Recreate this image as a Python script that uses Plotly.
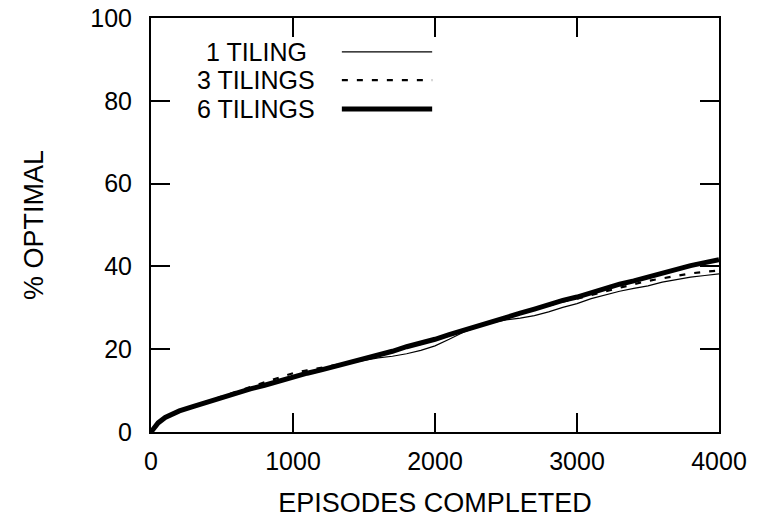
import plotly.graph_objects as go

episodes = [0, 25, 50, 100, 150, 200, 300, 400, 500, 600, 700, 800, 900, 1000,
            1100, 1200, 1300, 1400, 1500, 1600, 1700, 1800, 1900, 2000,
            2100, 2200, 2300, 2400, 2500, 2600, 2700, 2800, 2900, 3000,
            3100, 3200, 3300, 3400, 3500, 3600, 3700, 3800, 3900, 4000]

tiling1 = [0, 1.2, 2.2, 3.5, 4.4, 5.1, 6.2, 7.3, 8.5, 9.5, 10.5, 11.4, 12.4, 13.5,
           14.3, 15.1, 15.9, 16.6, 17.3, 17.9, 18.3, 18.9, 19.7, 20.8,
           22.4, 24.1, 25.4, 26.4, 27.1, 27.5, 28.1, 29.0, 30.1, 31.0,
           32.2, 33.1, 34.0, 34.7, 35.3, 36.2, 36.8, 37.4, 37.8, 38.2]

tiling3 = [0, 1.3, 2.3, 3.6, 4.5, 5.2, 6.3, 7.4, 8.6, 9.7, 10.9, 12.0, 13.2, 14.2,
           14.9, 15.5, 16.2, 16.8, 17.6, 18.5, 19.5, 20.5, 21.3, 22.3,
           23.4, 24.5, 25.6, 26.7, 27.7, 28.6, 29.6, 30.6, 31.5, 32.2,
           33.1, 33.9, 34.8, 35.7, 36.5, 37.1, 37.8, 38.3, 38.7, 39.0]

tiling6 = [0, 1.2, 2.2, 3.5, 4.4, 5.1, 6.2, 7.3, 8.4, 9.4, 10.4, 11.3, 12.3, 13.4,
           14.2, 15.0, 15.9, 16.7, 17.5, 18.4, 19.5, 20.6, 21.4, 22.4,
           23.5, 24.6, 25.7, 26.8, 27.8, 28.7, 29.7, 30.8, 31.8, 32.6,
           33.7, 34.8, 35.7, 36.5, 37.5, 38.4, 39.5, 40.2, 40.9, 41.6]

labels = ["1 TILING", "3 TILINGS", "6 TILINGS"]
x_ticks = [0, 1000, 2000, 3000, 4000]
y_ticks = [0, 20, 40, 60, 80, 100]

FONT = "Liberation Sans, Arial, sans-serif"

styles = [dict(width=1.2, dash="solid"),
          dict(width=2.2, dash="6px,9px"),
          dict(width=5, dash="solid")]

fig = go.Figure()
for name, ys, st in zip(labels, [tiling1, tiling3, tiling6], styles):
    fig.add_trace(go.Scatter(x=episodes, y=ys, mode="lines", name=name,
                             line=dict(color="black", width=st["width"], dash=st["dash"]),
                             showlegend=False))

# legend drawn manually: centered text followed by sample line
leg_y = [0.918, 0.850, 0.780]
for name, yy, st in zip(labels, leg_y, styles):
    fig.add_annotation(xref="paper", yref="paper", x=0.185, y=yy, text=name,
                       showarrow=False, xanchor="center", yanchor="middle",
                       font=dict(family=FONT, size=25, color="black"))
    fig.add_shape(type="line", xref="paper", yref="paper", x0=0.336, x1=0.495,
                  y0=yy, y1=yy, line=dict(color="black", width=st["width"], dash=st["dash"]))

axis_common = dict(showline=True, linecolor="black", linewidth=2, mirror="ticks",
                   ticks="inside", ticklen=19, tickwidth=2, tickcolor="black",
                   showgrid=False, zeroline=False, automargin=False,
                   tickfont=dict(family=FONT, size=25, color="black"))

fig.update_xaxes(range=[0, 4000], tickvals=x_ticks, ticklabelstandoff=6,
                 title=dict(text="EPISODES COMPLETED", standoff=19,
                            font=dict(family=FONT, size=27, color="black")),
                 **axis_common)
fig.update_yaxes(range=[0, 100], tickvals=y_ticks, ticklabelstandoff=12,
                 title=dict(text="% OPTIMAL", standoff=39,
                            font=dict(family=FONT, size=27, color="black")),
                 **axis_common)

fig.update_layout(width=765, height=519, margin=dict(l=151, r=46, t=18, b=87),
                  plot_bgcolor="white", paper_bgcolor="white",
                  font=dict(family=FONT, color="black"))

fig.write_html("out.html")
